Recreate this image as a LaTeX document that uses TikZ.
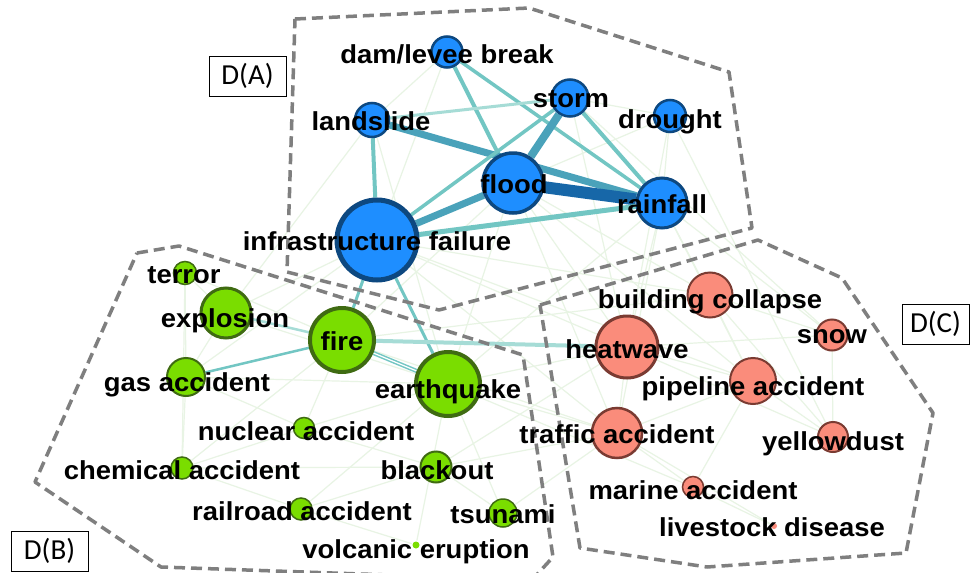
\documentclass[tikz,border=0pt]{standalone}
\usepackage{fontspec}
\newfontfamily\tagfont{Liberation Sans}[FakeStretch=1.055]
\newfontfamily\boxfont{Carlito}
\usetikzlibrary{backgrounds}
\definecolor{dotBlue}{HTML}{1E8EFF}
\definecolor{rimBlue}{HTML}{0D4880}
\definecolor{dotGreen}{HTML}{7ADD00}
\definecolor{rimGreen}{HTML}{3F6B12}
\definecolor{dotRed}{HTML}{FA8C7B}
\definecolor{rimRed}{HTML}{7A3B32}
\definecolor{linkPale}{HTML}{E8F4E4}
\definecolor{linkLight}{HTML}{A6DCD6}
\definecolor{linkTeal}{HTML}{72C6C3}
\definecolor{linkMid}{HTML}{4AA2BA}
\definecolor{linkDark}{HTML}{1767A8}
\definecolor{hullGray}{HTML}{7F7F7F}
\tikzset{
  blueDot/.style={circle, inner sep=0pt, fill=dotBlue, draw=rimBlue, line width=2.5pt},
  greenDot/.style={circle, inner sep=0pt, fill=dotGreen, draw=rimGreen, line width=2pt},
  redDot/.style={circle, inner sep=0pt, fill=dotRed, draw=rimRed, line width=2pt},
  tag/.style={anchor=base, inner sep=0pt, text=black, font=\tagfont\bfseries\fontsize{26}{28}\selectfont},
  tagBox/.style={draw, line width=1pt, fill=white, font=\boxfont\fontsize{29}{31}\selectfont, minimum width=77pt, minimum height=40pt, inner sep=0pt},
  hull/.style={hullGray, line width=3.5pt, dash pattern=on 11pt off 6pt, line join=round},
  faintLink/.style={linkPale, line width=1.2pt},
}

\begin{document}
\begin{tikzpicture}[x=1pt, y=-1pt]
    \clip (0,0) rectangle (970,573);

    % Cluster hulls
    \draw[hull] (295,19) -- (529,8) -- (729,72) -- (752,228) -- (439,310) -- (287,272) -- cycle;
    \draw[hull] (137,253) -- (179,246) -- (523,355) -- (553,557) -- (532,580) -- (161,567) -- (35,482) -- cycle;
    \draw[hull] (540,305) -- (758,240) -- (842,278) -- (933,413) -- (906,553) -- (707,567) -- (580,548) -- cycle;

    % D(A) nodes
    \node[blueDot, minimum size=31pt] (dam) at (447,52) {};
    \node[blueDot, minimum size=37pt] (storm) at (570,98) {};
    \node[blueDot, minimum size=34pt] (landslide) at (372,120) {};
    \node[blueDot, minimum size=32pt] (drought) at (670,116) {};
    \node[blueDot, minimum size=60pt, line width=3.5pt] (flood) at (513,183) {};
    \node[blueDot, minimum size=50pt, line width=3pt] (rainfall) at (662,203) {};
    \node[blueDot, minimum size=80pt, line width=5pt] (infra) at (377,240) {};

    % D(B) nodes
    \node[greenDot, minimum size=23pt, line width=1.5pt] (terror) at (185,273) {};
    \node[greenDot, minimum size=50pt, line width=3pt] (explosion) at (226,313) {};
    \node[greenDot, minimum size=64pt, line width=4pt] (fire) at (342,340) {};
    \node[greenDot, minimum size=38pt] (gas) at (186,377) {};
    \node[greenDot, minimum size=64pt, line width=4pt] (quake) at (448,384) {};
    \node[greenDot, minimum size=21pt, line width=1.5pt] (nuclear) at (304,428) {};
    \node[greenDot, minimum size=22pt, line width=1.5pt] (chemical) at (182,468) {};
    \node[greenDot, minimum size=31pt] (blackout) at (436,467) {};
    \node[greenDot, minimum size=22pt, line width=1.5pt] (railroad) at (301,509) {};
    \node[greenDot, minimum size=28pt, line width=1.5pt] (tsunami) at (503,513) {};
    \node[greenDot, minimum size=7pt, draw=none] (volcano) at (416,545) {};

    % D(C) nodes
    \node[redDot, minimum size=45pt] (building) at (710,295) {};
    \node[redDot, minimum size=31pt] (snow) at (832,335) {};
    \node[redDot, minimum size=62pt, line width=3pt] (heatwave) at (627,347) {};
    \node[redDot, minimum size=46pt] (pipeline) at (753,381) {};
    \node[redDot, minimum size=50pt, line width=2.5pt] (traffic) at (617,433) {};
    \node[redDot, minimum size=30pt] (yellowdust) at (833,437) {};
    \node[redDot, minimum size=21pt, line width=1.5pt] (marine) at (693,487) {};
    \node[redDot, minimum size=6pt, draw=none] (livestock) at (774,526) {};

    % Links
    \begin{pgfonlayer}{background}
        \fill[white] (0,0) rectangle (970,573);
        \foreach \a/\b in {terror/fire, terror/gas, terror/chemical, explosion/gas, explosion/quake,
            explosion/infra, gas/quake, gas/chemical, gas/nuclear, chemical/nuclear, chemical/railroad,
            chemical/fire, chemical/blackout, nuclear/quake, nuclear/blackout, railroad/quake,
            railroad/blackout, railroad/volcano, blackout/tsunami, tsunami/quake, volcano/quake,
            blackout/heatwave, quake/heatwave, quake/traffic, fire/traffic, fire/building,
            infra/heatwave, infra/building, infra/pipeline, infra/traffic, flood/heatwave,
            flood/building, flood/pipeline, flood/traffic, rainfall/heatwave, rainfall/snow,
            rainfall/building, rainfall/pipeline, storm/snow, drought/heatwave, drought/rainfall,
            drought/flood, drought/yellowdust, heatwave/pipeline, heatwave/traffic, heatwave/snow,
            building/snow, building/pipeline, pipeline/yellowdust, pipeline/marine, traffic/marine,
            traffic/livestock, marine/livestock, traffic/pipeline, heatwave/yellowdust,
            snow/yellowdust, infra/gas, landslide/explosion, landslide/quake, dam/infra,
            flood/quake, flood/fire, storm/heatwave, rainfall/quake, rainfall/traffic,
            dam/landslide, storm/drought, blackout/traffic, tsunami/traffic, fire/nuclear,
            explosion/terror, quake/marine, building/yellowdust, infra/quake}
            \draw[faintLink] (\a) -- (\b);

        \draw[linkTeal, line width=4pt] (dam) -- (flood);
        \draw[linkTeal, line width=3.5pt] (dam) -- (rainfall);
        \draw[linkLight, line width=3pt] (landslide) -- (storm);
        \draw[linkMid, line width=7pt] (landslide) -- (rainfall);
        \draw[linkTeal, line width=4pt] (landslide) -- (infra);
        \draw[linkMid, line width=8pt] (storm) -- (flood);
        \draw[linkTeal, line width=3.5pt] (storm) -- (infra);
        \draw[linkTeal, line width=4pt] (storm) -- (rainfall);
        \draw[linkDark, line width=12pt] (flood) -- (rainfall);
        \draw[linkMid, line width=7pt] (infra) -- (flood);
        \draw[linkTeal, line width=5pt] (infra) -- (rainfall);
        \draw[linkTeal, line width=3pt] (infra) -- (fire);
        \draw[linkTeal, line width=3pt] (infra) -- (quake);
        \draw[linkLight, line width=2.5pt] (fire) -- (explosion);
        \draw[linkTeal, line width=2.5pt] (fire) -- (gas);
        \draw[linkTeal, line width=1.5pt, double=white, double distance=1.2pt] (fire) -- (quake);
        \draw[linkLight, line width=4pt] (fire) -- (heatwave);
    \end{pgfonlayer}

    % Labels
    \node[tag] (dam-t) at (447,63) {dam/levee break};
    \node[tag] (storm-t) at (571,107) {storm};
    \node[tag] (landslide-t) at (371,130) {landslide};
    \node[tag] (drought-t) at (670,128) {drought};
    \node[tag] (flood-t) at (514,193) {flood};
    \node[tag] (rainfall-t) at (662,213) {rainfall};
    \node[tag] (infra-t) at (377,250) {infrastructure failure};
    \node[tag] (terror-t) at (184,283) {terror};
    \node[tag] (explosion-t) at (225,327) {explosion};
    \node[tag] (fire-t) at (342,350) {fire};
    \node[tag] (gas-t) at (187,391) {gas accident};
    \node[tag] (quake-t) at (448,398) {earthquake};
    \node[tag] (nuclear-t) at (306,440) {nuclear accident};
    \node[tag] (chemical-t) at (182,479) {chemical accident};
    \node[tag] (blackout-t) at (437,479) {blackout};
    \node[tag] (railroad-t) at (302,520) {railroad accident};
    \node[tag] (tsunami-t) at (503,523) {tsunami};
    \node[tag] (volcano-t) at (416,558) {volcanic eruption};
    \node[tag] (building-t) at (710,308) {building collapse};
    \node[tag] (snow-t) at (832,343) {snow};
    \node[tag] (heatwave-t) at (627,358) {heatwave};
    \node[tag] (pipeline-t) at (753,395) {pipeline accident};
    \node[tag] (traffic-t) at (617,443) {traffic accident};
    \node[tag] (yellowdust-t) at (833,450) {yellowdust};
    \node[tag] (marine-t) at (693,499) {marine accident};
    \node[tag] (livestock-t) at (772,536) {livestock disease};

    % Cluster tags
    \node[tagBox] (boxA) at (247.5,76) {D(A)};
    \node[tagBox] (boxB) at (49.5,551) {D(B)};
    \node[tagBox, minimum width=67pt] (boxC) at (935.5,324) {D(C)};
\end{tikzpicture}
\end{document}
